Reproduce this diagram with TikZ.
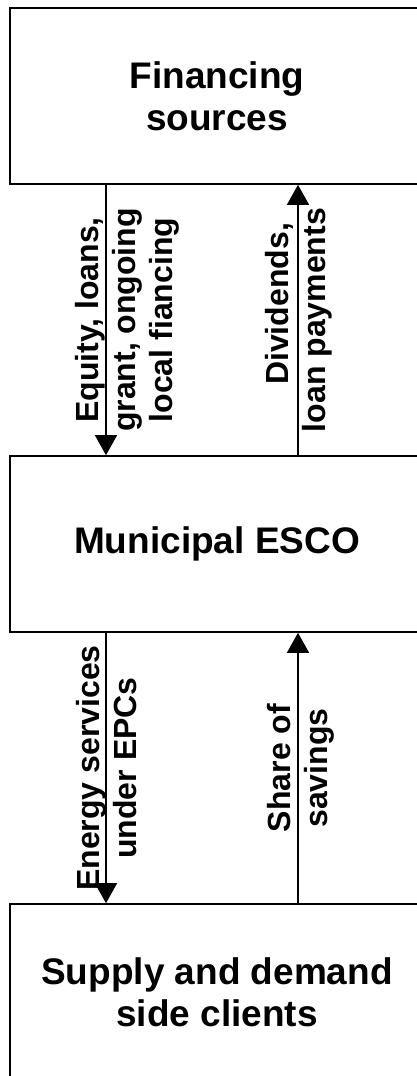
\documentclass[tikz,border=0pt]{standalone}
\usepackage{fontspec}
\setmainfont{Liberation Sans}
\usetikzlibrary{positioning,arrows.meta,calc}

\begin{document}
\begin{tikzpicture}[x=1pt,y=-1pt,
    box/.style={draw,line width=1.6pt,minimum width=414pt,minimum height=176pt,inner sep=0pt,align=center,font=\fontsize{37}{42}\selectfont\bfseries},
    flow/.style={-{Triangle[length=20pt,width=22pt]},line width=1.3pt},
    lbl/.style={rotate=90,inner sep=0pt,align=center,font=\fontsize{32}{37}\selectfont\bfseries}]
     \useasboundingbox (0,0) rectangle (417,1076);

     \node[box] (fin) at (217,96) {Financing\\sources};
     \node[box] (esco) at (217,544) {Municipal ESCO};
     \node[box] (cli) at (217,992) {Supply and demand\\side clients};

     \coordinate (l) at (106,0);
     \coordinate (r) at (298,0);

     \draw[flow] (fin.south -| l) -- (esco.north -| l);
     \draw[flow] (esco.north -| r) -- (fin.south -| r);
     \draw[flow] (esco.south -| l) -- (cli.north -| l);
     \draw[flow] (cli.north -| r) -- (esco.south -| r);

     \node[xshift=21pt,lbl] (eq) at ($(fin.south -| l)!.5!(esco.north -| l)$) {Equity, loans,\\grant, ongoing\\local fiancing};
     \node[xshift=1pt,lbl] (div) at ($(fin.south -| r)!.5!(esco.north -| r)$) {\hspace*{1em}Dividends,\\loan payments};
     \node[xshift=1pt,lbl] (en) at ($(esco.south -| l)!.5!(cli.north -| l)$) {Energy services\\under EPCs};
     \node[xshift=3pt,lbl] (sh) at ($(esco.south -| r)!.5!(cli.north -| r)$) {Share of\\savings};
    \end{tikzpicture}
\end{document}
